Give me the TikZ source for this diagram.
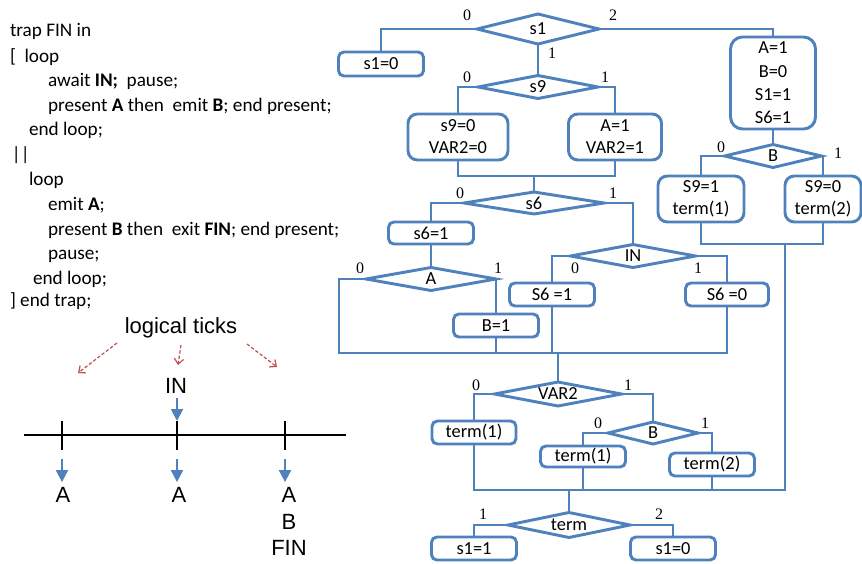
\documentclass[tikz,border=0pt]{standalone}
\usepackage{fontspec}
\setmainfont{Carlito}
\newfontfamily\numfont{Liberation Serif}
\newfontfamily\arialfont{Liberation Sans}
\usetikzlibrary{shapes.geometric,arrows.meta}
\definecolor{flowblue}{HTML}{4F81BD}
\definecolor{tickred}{HTML}{C0504D}
\newcommand\boxfont{\fontsize{13.8}{16.5}\selectfont}
\newcommand\codefont{\fontsize{14.4}{17}\selectfont}

\begin{document}
\begin{tikzpicture}[x=0.75pt,y=-0.75pt,
  every node/.style={outer sep=0pt},
  link/.style={draw=flowblue, line width=2.2pt},
  proc/.style 2 args={draw=flowblue, line width=2.2pt, rounded corners=4pt,
    minimum width=#1*0.75pt, minimum height=#2*0.75pt, inner sep=0pt,
    align=center, font=\boxfont},
  proctwo/.style 2 args={proc={#1}{#2}, rounded corners=7pt},
  procbig/.style 2 args={proc={#1}{#2}, rounded corners=9pt,
    font=\fontsize{13.8}{17.5}\selectfont},
  test/.style n args={3}{diamond, draw=flowblue, line width=2.2pt,
    minimum width=#1*0.75pt, minimum height=#2*0.75pt, aspect=#3,
    inner sep=0pt, font=\boxfont},
  num/.style={font=\numfont\fontsize{12}{12}\selectfont, inner sep=0pt},
  code/.style={anchor=base west, inner sep=0pt, font=\codefont},
  sans/.style={font=\arialfont\fontsize{16.5}{16.5}\selectfont, inner sep=0pt},
  bluearrow/.style={draw=flowblue, line width=1.5pt, -{Triangle[length=9pt,width=9pt]}},
  redarrow/.style={draw=tickred, line width=0.9pt, dash pattern=on 2.5pt off 1.5pt,
    -{Straight Barb[length=4pt,width=7pt]}},
  axis/.style={draw=black, line width=1.5pt}
]
\path[use as bounding box] (0,0) rectangle (862,563);

% ---------- Esterel source ----------
\node[code] (c1)  at (10,37)    {trap FIN in};
\node[code] (c2)  at (10,62.5)  {[\ \ loop};
\node[code] (c3)  at (48,87)    {await \textbf{IN;}\ \ pause;};
\node[code] (c4)  at (48,111.5) {present \textbf{A} then\ \ emit \textbf{B}; end present;};
\node[code] (c5)  at (29,136)   {end loop;};
\node[code] (c6)  at (12,161)   {||};
\node[code] (c7)  at (29,185.5) {loop};
\node[code] (c8)  at (48,210)   {emit \textbf{A};};
\node[code] (c9)  at (48,235)   {present \textbf{B} then\ \ exit \textbf{FIN}; end present;};
\node[code] (c10) at (48,259.5) {pause;};
\node[code] (c11) at (33,284)   {end loop;};
\node[code] (c12) at (10,306)   {] end trap;};

% ---------- logical ticks ----------
\node[sans] (lt) at (181,328) {logical ticks};
\coordinate (r1s) at (117,343); \coordinate (r1e) at (78,373);
\coordinate (r2s) at (181,345); \coordinate (r2e) at (178,365);
\coordinate (r3s) at (247,344); \coordinate (r3e) at (277,367);
\draw[redarrow] (r1s) -- (r1e);
\draw[redarrow] (r2s) -- (r2e);
\draw[redarrow] (r3s) -- (r3e);

\node[sans] (inlab) at (176,386) {IN};
\coordinate (axl) at (24,435);
\coordinate (axr) at (346,435);
\draw[axis] (axl) -- (axr);
\foreach \i/\x in {1/62,2/177,3/285}{
  \coordinate (tt\i) at (\x,421);
  \coordinate (tb\i) at (\x,450);
  \coordinate (as\i) at (\x,459);
  \draw[axis] (tt\i) -- (tb\i);
}
\coordinate (ins) at (177,398);
\draw[bluearrow] (ins) -- (tt2);
\node[sans] (A1) at (63,495)  {A};
\node[sans] (A2) at (179,495) {A};
\node[sans] (A3) at (289,495) {A};
\node[sans] (B3) at (289,522) {B};
\node[sans] (F3) at (289,548) {FIN};
\draw[bluearrow, shorten >=4pt] (as1) -- (as1 |- A1.north);
\draw[bluearrow, shorten >=4pt] (as2) -- (as2 |- A2.north);
\draw[bluearrow, shorten >=4pt] (as3) -- (as3 |- A3.north);

% ---------- flowchart nodes ----------
\node[test={122}{30}{4.07}] (d1) at (538,29) {s1};
\node[proc={85}{24}] (b10) at (381,64) {s1=0};
\node[test={120}{23}{5.22}] (d9) at (538,87) {s9};
\node[proctwo={100}{46}] (b90) at (458,137) {s9=0\\VAR2=0};
\node[proctwo={93}{46}] (b91) at (615,137) {A=1\\VAR2=1};
\coordinate (m1) at (534,176);
\node[test={140}{22}{6.36}] (d6) at (534,203) {s6};
\node[proc={85}{22}] (b61) at (431,233) {s6=1};
\node[test={130}{23}{5.65}] (dA) at (431,279) {A};
\node[proc={85}{23}] (bB1) at (496,325.5) {B=1};
\coordinate (L1) at (339,353);
\node[test={125}{23}{5.43}] (dIN) at (633,256) {IN};
\node[proc={85}{23}] (bS61) at (552,294.5) {S6 =1};
\node[proc={83}{23}] (bS60) at (727,294.5) {S6 =0};
\coordinate (m2) at (558,353);
\node[test={127}{24}{5.29}] (dV) at (558,394) {VAR2};
\node[proc={84}{23}] (bt1) at (474,432.5) {term(1)};
\node[test={90}{22}{4.09}] (dB2) at (653,433) {B};
\node[proc={85}{21}] (bt1b) at (583,456.5) {term(1)};
\node[proc={85}{23}] (bt2) at (712,464.5) {term(2)};
\coordinate (R2) at (785,490);
\coordinate (m4) at (569,490);
\node[test={122}{25}{4.88}] (dT) at (569,525) {term};
\node[proc={85}{23}] (bs11) at (474,548.5) {s1=1};
\node[proc={85}{23}] (bs10) at (673,548.5) {s1=0};
\node[procbig={85}{92}] (bInit) at (773,83) {A=1\\B=0\\S1=1\\S6=1};
\node[test={97}{23}{4.22}] (dB1) at (773,156) {B};
\node[proctwo={86}{46}] (bS91) at (701,199) {S9=1\\term(1)};
\node[proctwo={76}{46}] (bS90) at (823,199) {S9=0\\term(2)};
\coordinate (m3) at (785,244);

% ---------- flowchart connectors ----------
\draw[link] (d1.west) -| (b10.north);
\draw[link] (d1.east) -| (bInit.north);
\draw[link] (d1.south) -- (d9.north);
\draw[link] (d9.west) -| (b90.north);
\draw[link] (d9.east) -| (b91.north);
\draw[link] (b90.south) |- (m1) -| (b91.south);
\draw[link] (m1) -- (d6.north);
\draw[link] (d6.west) -| (b61.north);
\draw[link] (b61.south) -- (dA.north);
\draw[link] (dA.west) -| (L1) -- (L1 -| bS60.south) -- (bS60.south);
\draw[link] (dA.east) -| (bB1.north);
\draw[link] (bB1.south) -- (bB1.south |- L1);
\draw[link] (d6.east) -| (dIN.north);
\draw[link] (dIN.west) -| (bS61.north);
\draw[link] (bS61.south) -- (bS61.south |- L1);
\draw[link] (dIN.east) -| (bS60.north);
\draw[link] (m2) -- (dV.north);
\draw[link] (dV.west) -| (bt1.north);
\draw[link] (dV.east) -| (dB2.north);
\draw[link] (dB2.west) -| (bt1b.north);
\draw[link] (dB2.east) -| (bt2.north);
\draw[link] (bt1.south) |- (R2) -- (m3);
\draw[link] (bt1b.south) -- (bt1b.south |- R2);
\draw[link] (bt2.south) -- (bt2.south |- R2);
\draw[link] (bInit.south) -- (dB1.north);
\draw[link] (dB1.west) -| (bS91.north);
\draw[link] (dB1.east) -| (bS90.north);
\draw[link] (bS91.south) |- (m3) -| (bS90.south);
\draw[link] (m4) -- (dT.north);
\draw[link] (dT.west) -| (bs11.north);
\draw[link] (dT.east) -| (bs10.north);

% ---------- branch values ----------
\node[num] (n1)  at (467,15)  {0};
\node[num] (n2)  at (613,15)  {2};
\node[num] (n3)  at (552,53)  {1};
\node[num] (n4)  at (467,77)  {0};
\node[num] (n5)  at (605,77)  {1};
\node[num] (n6)  at (460,193) {0};
\node[num] (n7)  at (613,193) {1};
\node[num] (n8)  at (360,268) {0};
\node[num] (n9)  at (498,268) {1};
\node[num] (n10) at (575,268) {0};
\node[num] (n11) at (698,268) {1};
\node[num] (n12) at (721,147) {0};
\node[num] (n13) at (838,153) {1};
\node[num] (n14) at (476,385) {0};
\node[num] (n15) at (628,385) {1};
\node[num] (n16) at (598,423) {0};
\node[num] (n17) at (705,423) {1};
\node[num] (n18) at (483,514) {1};
\node[num] (n19) at (659,514) {2};
\end{tikzpicture}
\end{document}
